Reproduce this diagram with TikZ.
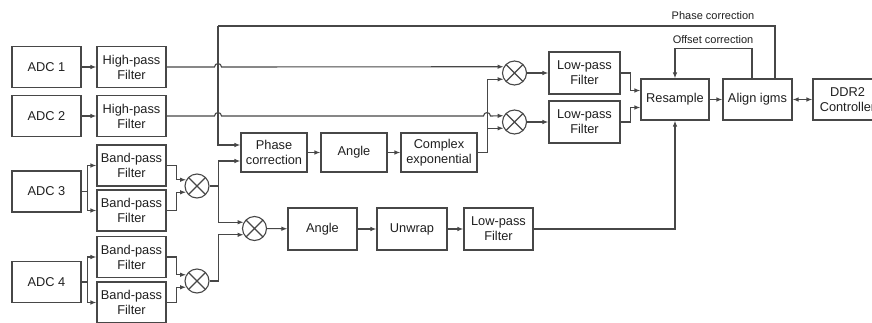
\documentclass[tikz,border=0pt]{standalone}
\usepackage{fontspec}
\setmainfont{Liberation Sans}
\usetikzlibrary{arrows.meta,calc}
\begin{document}
\begin{tikzpicture}[x=1pt,y=-1pt,line width=1.1pt,color=black!72,
  blk/.style={draw=black!72,line width=1.1pt,minimum width=69pt,minimum height=41pt,inner sep=1pt,align=center,
    font=\fontsize{12.8}{15}\selectfont,text=black!88},
  mul/.style={draw=black!72,line width=1.1pt,circle,minimum size=24pt,inner sep=0pt,
    path picture={\draw[line width=1.1pt,black!72] (path picture bounding box.north west)--(path picture bounding box.south east)
      (path picture bounding box.north east)--(path picture bounding box.south west);}},
  arr/.style={-{Latex[length=6pt,width=4.5pt]}},
  darr/.style={{Latex[length=6pt,width=4.5pt]}-{Latex[length=6pt,width=4.5pt]}},
  lbl/.style={font=\fontsize{11}{13}\selectfont,text=black!88}]
\useasboundingbox (0,0) rectangle (872,322);
% boxes
\node[blk] (adc1) at (46.5,67) {ADC 1};
\node[blk] (hp1) at (131.5,67) {High-pass\\Filter};
\node[blk] (adc2) at (46.5,116) {ADC 2};
\node[blk] (hp2) at (131.5,116) {High-pass\\Filter};
\node[blk] (adc3) at (46.5,191.5) {ADC 3};
\node[blk] (bp1) at (131.5,165.5) {Band-pass\\Filter};
\node[blk] (bp2) at (131.5,210.5) {Band-pass\\Filter};
\node[blk] (adc4) at (46.5,282) {ADC 4};
\node[blk] (bp3) at (131.5,257) {Band-pass\\Filter};
\node[blk] (bp4) at (131.5,302.5) {Band-pass\\Filter};
\node[mul] (m1) at (197,186) {};
\node[mul] (m2) at (197,281) {};
\node[mul] (m3) at (254.5,228.5) {};
\node[blk,minimum width=66pt,minimum height=39pt] (pc) at (274,152.5) {Phase\\correction};
\node[blk,minimum width=66pt,minimum height=39pt] (ang1) at (354,152.5) {Angle};
\node[blk,minimum width=76pt,minimum height=39pt] (cexp) at (439,152.5) {Complex\\exponential};
\node[mul] (m4) at (514.5,73) {};
\node[mul] (m5) at (514.5,122) {};
\node[blk,minimum width=71pt,minimum height=42pt] (lp1) at (584.5,73) {Low-pass\\Filter};
\node[blk,minimum width=71pt,minimum height=42pt] (lp2) at (584.5,122) {Low-pass\\Filter};
\node[blk,minimum width=68pt] (res) at (675,99.5) {Resample};
\node[blk] (align) at (757.5,99.5) {Align igms};
\node[blk] (ddr) at (847.5,99.5) {DDR2\\Controller};
\node[blk,minimum height=42pt] (ang2) at (322.5,229) {Angle};
\node[blk,minimum width=70pt,minimum height=42pt] (unw) at (412,229) {Unwrap};
\node[blk,minimum height=42pt] (lp3) at (498.5,229) {Low-pass\\Filter};
% labels
\node[lbl] (lphase) at (713,16) {Phase correction};
\node[lbl] (loff) at (713,40) {Offset correction};
% junction coordinates
\coordinate (j3) at ($(adc3.east)+(6,0)$);
\coordinate (j4) at ($(adc4.east)+(6,0)$);
\coordinate (j1) at ($(m1.east)+(9,0)$);
\coordinate (j2) at ($(m2.east)+(9,0)$);
\coordinate (jc) at ($(cexp.east)+(10,0)$);
\coordinate (jt) at (218,26);
% ADC -> filters
\draw[arr] (adc1) -- (hp1);
\draw[arr] (adc2) -- (hp2);
\draw (adc3.east) -- (j3);
\draw[arr] (j3) |- (bp1.west);
\draw[arr] (j3) |- (bp2.west);
\draw (adc4.east) -- (j4);
\draw[arr] (j4) |- (bp3.west);
\draw[arr] (j4) |- (bp4.west);
% band-pass -> multipliers
\draw[arr] (bp1.east) -- ++(10,0) |- (m1.150);
\draw[arr] (bp2.east) -- ++(10,0) |- (m1.210);
\draw[arr] (bp3.east) -- ++(10,0) |- (m2.150);
\draw[arr] (bp4.east) -- ++(10,0) |- (m2.210);
\draw (m1.east) -- (j1);
\draw[arr] (j1) |- ($(pc.west)+(0,8.5)$);
\draw[arr] (j1) |- (m3.150);
\draw (m2.east) -- (j2);
\draw[arr] (j2) |- (m3.210);
% lower chain
\draw[arr] (m3) -- (ang2);
\draw[arr] (ang2) -- (unw);
\draw[arr] (unw) -- (lp3);
\draw[arr] (lp3.east) -| (res.south);
% phase chain
\draw[arr] (pc) -- (ang1);
\draw[arr] (ang1) -- (cexp);
\draw (cexp.east) -- (jc);
\draw[arr] (jc) |- (m4.210);
\draw[arr] (jc) |- (m5.210);
% high-pass lines with hops
\draw[arr] (hp1.east) -- (214.5,67) .. controls (214.5,62.5) and (221.5,62.5) .. (221.5,67) -- (m4.150);
\draw[arr] (hp2.east) -- (214.5,116) .. controls (214.5,111.5) and (221.5,111.5) .. (221.5,116)
  -- (483.5,116) .. controls (483.5,111.5) and (490.5,111.5) .. (490.5,116) -- (m5.150);
% to low-pass and resample
\draw[arr] (m4) -- (lp1);
\draw[arr] (m5) -- (lp2);
\draw[arr] (lp1.east) -- ++(10,0) |- ($(res.west)+(0,-9)$);
\draw[arr] (lp2.east) -- ++(10,0) |- ($(res.west)+(0,8)$);
\draw[arr] (res) -- (align);
\draw[darr] (align) -- (ddr);
% feedback loops
\draw[arr] ($(align.north)+(-5.5,0)$) -- ++(0,-30) -| (res.north);
\draw ($(align.north)+(17.5,0)$) |- (jt);
\draw[arr] (jt) |- ($(pc.west)+(0,-7.5)$);
\end{tikzpicture}
\end{document}
